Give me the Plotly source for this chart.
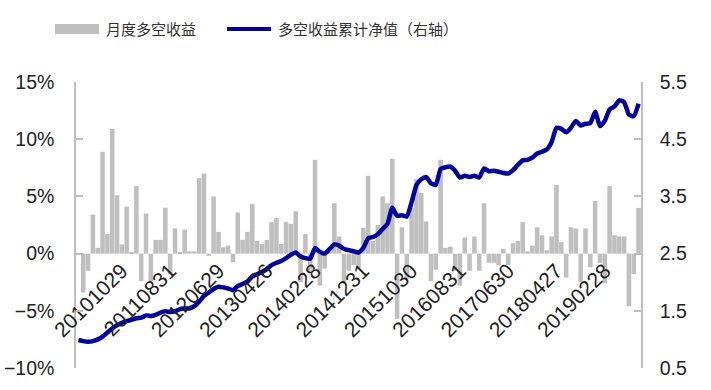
import pandas as pd
import plotly.graph_objects as go

# ---------------- data ----------------
start_month = "2009-12"
n_months = 117
months = pd.period_range(start_month, periods=n_months, freq="M").strftime("%Y-%m").tolist()

tick_labels = ["20101029", "20110831", "20120629", "20130426", "20140228", "20141231",
               "20151030", "20160831", "20170630", "20180427", "20190228"]

# monthly long-short return (%)
monthly_return = [
    0.0, -3.4, -1.5, 3.4, 0.5, 8.9, 1.7, 10.9, 5.1, 0.8,
    4.1, 0.1, 5.9, -2.4, 3.5, -2.4, 1.2, 1.2, 4.0, -1.8,
    2.2, 0.1, 2.1, 0.2, 0.2, 6.6, 7.0, -0.2, 5.0, 1.9,
    0.55, 0.7, -0.75, 3.6, 1.2, 1.9, 4.35, 1.1, 0.85, 1.2,
    2.75, 3.1, 0.85, 2.75, 2.6, 3.7, -2.5, 1.7, -1.5, 8.2,
    -2.8, -1.3, 0.3, 4.4, 1.5, -2.5, -1.5, -1.0, -1.3, 2.25,
    6.8, 1.1, 2.5, 5.0, 4.4, 8.3, -5.7, 2.3, -2.2, 4.0,
    6.5, 5.3, 2.8, -2.4, -1.4, 8.2, 0.5, 0.6, -1.5, -2.8,
    1.4, -1.5, 1.5, -1.5, 4.4, -0.8, -0.8, -1.0, 0.4, -1.0,
    0.9, 1.1, 2.75, 0.2, 0.7, 2.3, 1.6, 0.3, 1.5, 6.0,
    1.0, -2.1, 2.3, 2.2, -2.5, 2.2, -1.2, 4.6, -0.8, -2.6,
    5.9, 1.6, 1.5, 1.5, -4.6, -1.8, 4.0,
]

# cumulative long-short NAV (right axis)
cum_nav = [
    0.99, 0.97, 0.96, 0.97, 1.00, 1.05, 1.12, 1.19, 1.25, 1.29,
    1.32, 1.34, 1.37, 1.38, 1.42, 1.41, 1.43, 1.47, 1.49, 1.48,
    1.49, 1.53, 1.54, 1.54, 1.58, 1.66, 1.76, 1.82, 1.88, 1.92,
    1.91, 1.89, 1.86, 1.93, 1.97, 2.01, 2.10, 2.14, 2.18, 2.23,
    2.30, 2.34, 2.37, 2.42, 2.48, 2.52, 2.45, 2.42, 2.41, 2.60,
    2.53, 2.50, 2.58, 2.66, 2.64, 2.58, 2.56, 2.54, 2.52, 2.60,
    2.77, 2.79, 2.84, 2.93, 3.02, 3.30, 3.16, 3.17, 3.15, 3.40,
    3.70, 3.80, 3.84, 3.73, 3.70, 3.98, 4.01, 4.02, 3.95, 3.83,
    3.86, 3.84, 3.86, 3.83, 3.99, 3.94, 3.95, 3.93, 3.91, 3.90,
    3.96, 4.05, 4.13, 4.14, 4.18, 4.25, 4.28, 4.32, 4.45, 4.70,
    4.68, 4.62, 4.70, 4.82, 4.74, 4.77, 4.78, 4.98, 4.73, 4.82,
    5.02, 5.07, 5.18, 5.15, 4.93, 4.90, 5.12,
]

bar_name = "月度多空收益"
line_name = "多空收益累计净值（右轴）"

tick_vals = [t[:4] + "-" + t[4:6] for t in tick_labels]

# ---------------- figure ----------------
W, H = 711, 390
L, R, T, B = 76, 70, 82, 22
plot_w = W - L - R
plot_h = H - T - B


def px_x(px):
    return (px - L) / plot_w


def px_y(py):
    return (H - B - py) / plot_h


y_tick_font = dict(family="Liberation Sans, Arial, sans-serif", size=19.5, color="#222222")
x_tick_font = dict(family="Liberation Sans, Arial, sans-serif", size=21, color="#222222")
axis_grey = "#BFBFBF"

fig = go.Figure()
fig.add_trace(go.Bar(x=months, y=monthly_return, name=bar_name,
                     marker=dict(color="#BFBFBF", line=dict(width=0)), yaxis="y"))
fig.add_trace(go.Scatter(x=months, y=cum_nav, name=line_name, mode="lines",
                         line=dict(color="#00009C", width=4.5, shape="spline", smoothing=0.5),
                         yaxis="y2"))

zero_pos = (0 - (-10)) / 25.0

fig.update_layout(
    width=W, height=H, autosize=False,
    margin=dict(l=L, r=R, t=T, b=B, pad=0, autoexpand=False),
    plot_bgcolor="white", paper_bgcolor="white",
    showlegend=False,
    bargap=0.06,
    xaxis=dict(type="category", range=[-0.5, n_months - 0.5], automargin=False,
               tickmode="array", tickvals=tick_vals, ticktext=tick_labels,
               tickangle=-45, tickfont=x_tick_font, showgrid=False, zeroline=False,
               showline=False, ticks="", anchor="free", position=zero_pos,
               ticklabelshift=-5),
    yaxis=dict(range=[-10, 15], dtick=5, tick0=-10, ticksuffix="%", automargin=False,
               tickfont=y_tick_font, showgrid=False, zeroline=False,
               showline=True, linecolor=axis_grey, linewidth=1.5,
               ticks="inside", ticklen=7, tickcolor=axis_grey, tickwidth=1.5,
               ticklabelstandoff=16),
    yaxis2=dict(range=[0.5, 5.5], dtick=1, tick0=0.5, overlaying="y", side="right",
                automargin=False,
                tickformat=".1f", tickfont=y_tick_font, showgrid=False, zeroline=False,
                showline=True, linecolor=axis_grey, linewidth=1.5,
                ticks="inside", ticklen=7, tickcolor=axis_grey, tickwidth=1.5,
                ticklabelstandoff=13),
)

# legend drawn by hand (wide swatches as in the original)
legend_font = dict(family="Noto Sans CJK SC", size=15, color="#333333")
ly = 29
fig.add_shape(type="rect", xref="paper", yref="paper",
              x0=px_x(55), x1=px_x(99), y0=px_y(34), y1=px_y(24),
              fillcolor="#BFBFBF", line=dict(width=0))
fig.add_annotation(xref="paper", yref="paper", x=px_x(104), y=px_y(ly),
                   text=bar_name, showarrow=False, xanchor="left", yanchor="middle",
                   font=legend_font)
fig.add_shape(type="line", xref="paper", yref="paper",
              x0=px_x(227), x1=px_x(271), y0=px_y(ly), y1=px_y(ly),
              line=dict(color="#00009C", width=4))
fig.add_annotation(xref="paper", yref="paper", x=px_x(276), y=px_y(ly),
                   text=line_name, showarrow=False, xanchor="left", yanchor="middle",
                   font=legend_font)

fig.write_html("out.html", config={"displayModeBar": False},
               post_script="document.body.style.margin='0';")
